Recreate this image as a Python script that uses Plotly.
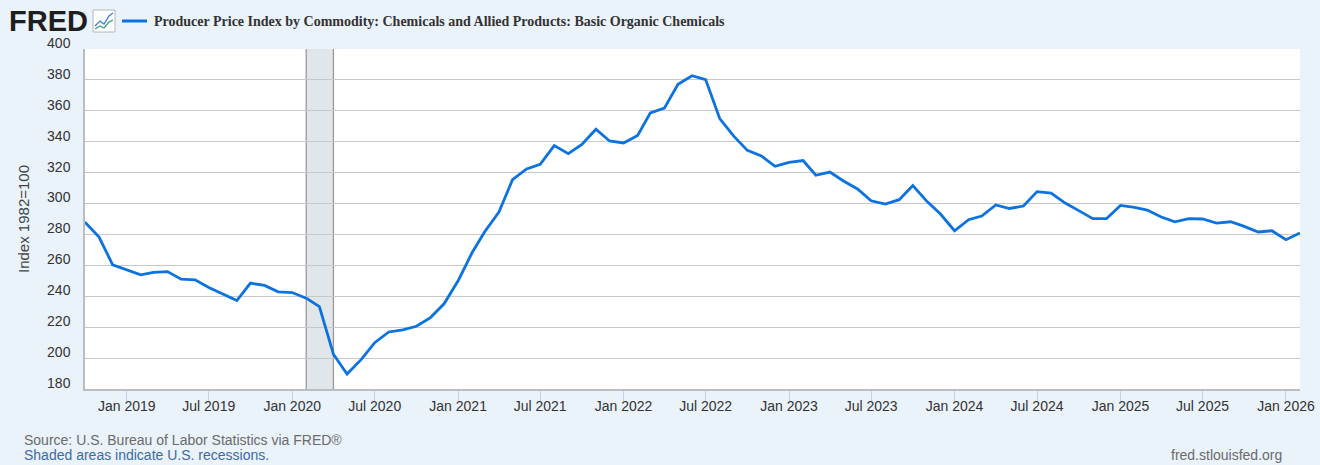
import pandas as pd
import plotly.graph_objects as go

W, H = 1320, 465
ML, MR, MT, MB = 85, 20, 49, 76

# monthly index values, Oct 2018 .. Feb 2026
start_month = "2018-10-01"
ppi_values = [
    288.0, 278.3, 260.4,
    257.1, 253.9, 255.4, 256.0, 251.1, 250.6, 245.7, 241.4, 237.2, 248.5, 247.0, 242.9,
    242.4, 238.8, 233.3, 202.5, 189.7, 199.0, 210.0, 216.9, 218.2, 220.6, 226.2, 235.1,
    250.0, 268.3, 281.9, 294.5, 315.4, 322.4, 325.4, 337.5, 332.3, 338.3, 348.1, 340.5,
    339.2, 344.0, 358.7, 361.7, 377.2, 382.7, 380.2, 355.0, 343.6, 334.4, 330.8, 324.1,
    326.7, 327.8, 318.3, 320.4, 314.6, 309.4, 301.8, 299.7, 302.5, 311.6, 301.4, 293.2,
    282.4, 289.5, 291.9, 299.1, 296.8, 298.4, 307.7, 306.8, 300.3, 295.4, 290.2, 290.2,
    298.8, 297.5, 295.8, 291.3, 288.2, 290.2, 290.0, 287.4, 288.2, 285.2, 281.6, 282.4,
    276.6, 280.9,
]
dates = pd.date_range(start_month, periods=len(ppi_values), freq="MS")

recession = ("2020-02-01", "2020-04-01")
y_ticks = list(range(180, 401, 20))

title_text = "Producer Price Index by Commodity: Chemicals and Allied Products: Basic Organic Chemicals"
y_title = "Index 1982=100"
source_text = "Source: U.S. Bureau of Labor Statistics via FRED®"
shaded_text = "Shaded areas indicate U.S. recessions."
site_text = "fred.stlouisfed.org"

LINE = "#0b72e0"
BG = "#eaf2fa"


def px(x):
    # pixel column -> paper x
    return (x - ML) / (W - ML - MR)


def py(y):
    # pixel row -> paper y
    return 1 - (y - MT) / (H - MT - MB)


fig = go.Figure()
fig.add_trace(go.Scatter(
    x=dates, y=ppi_values,
    mode="lines",
    line=dict(color=LINE, width=2.8),
    hoverinfo="skip",
))

# recession band
fig.add_shape(type="rect", xref="x", yref="paper",
              x0=recession[0], x1=recession[1], y0=0, y1=1,
              fillcolor="#e1e6eb", line=dict(width=0), layer="below")
for d in recession:
    fig.add_shape(type="line", xref="x", yref="paper",
                  x0=d, x1=d, y0=0, y1=1,
                  line=dict(color="#999999", width=1.3), layer="below")

# header: logo, icon, legend swatch
fig.add_annotation(text="<b>FRED</b>", xref="paper", yref="paper",
                   x=px(7), y=py(21), xanchor="left", yanchor="middle",
                   showarrow=False, font=dict(family="Liberation Sans", size=29, color="#1e1e1e"))
fig.add_shape(type="rect", xref="paper", yref="paper",
              x0=px(93), x1=px(115), y0=py(32), y1=py(10),
              fillcolor="white", line=dict(color="#b8b8b8", width=1))
fig.add_shape(type="path", xref="paper", yref="paper",
              path=f"M{px(95)},{py(26)} L{px(100)},{py(21)} L{px(104)},{py(24)} L{px(109)},{py(16)} L{px(113)},{py(13)}",
              line=dict(color="#3b7dd8", width=1.3))
fig.add_shape(type="path", xref="paper", yref="paper",
              path=f"M{px(95)},{py(29)} L{px(100)},{py(26)} L{px(104)},{py(28)} L{px(109)},{py(22)} L{px(113)},{py(20)}",
              line=dict(color="#33a37a", width=1.3))
fig.add_shape(type="line", xref="paper", yref="paper",
              x0=px(122), x1=px(147), y0=py(21), y1=py(21),
              line=dict(color=LINE, width=3))
fig.add_annotation(text="<b>" + title_text + "</b>", xref="paper", yref="paper",
                   x=px(152), y=py(21), xanchor="left", yanchor="middle",
                   showarrow=False, font=dict(family="Liberation Serif", size=14, color="#333333"))

# footer
fig.add_annotation(text=source_text, xref="paper", yref="paper",
                   x=px(22), y=py(440), xanchor="left", yanchor="middle",
                   showarrow=False, font=dict(family="Liberation Sans", size=14, color="#6b6b6b"))
fig.add_annotation(text=shaded_text, xref="paper", yref="paper",
                   x=px(22), y=py(455), xanchor="left", yanchor="middle",
                   showarrow=False, font=dict(family="Liberation Sans", size=14, color="#3d6aa6"))
fig.add_annotation(text=site_text, xref="paper", yref="paper",
                   x=px(1284), y=py(455), xanchor="right", yanchor="middle",
                   showarrow=False, font=dict(family="Liberation Sans", size=14, color="#6b6b6b"))

fig.update_layout(
    width=W, height=H,
    margin=dict(l=ML, r=MR, t=MT, b=MB, autoexpand=False),
    paper_bgcolor=BG, plot_bgcolor="white",
    showlegend=False,
    font=dict(family="Liberation Sans", size=14, color="#333333"),
    xaxis=dict(
        type="date", automargin=False,
        range=[dates[0], dates[-1]],
        tick0="2019-01-01", dtick="M6", tickformat="%b %Y",
        ticks="outside", ticklen=10, tickcolor="#c3d3e6", tickwidth=1,
        ticklabelstandoff=-7,
        showgrid=False, zeroline=False,
        showline=True, linecolor="#bdbdbd", linewidth=1.5,
        tickfont=dict(size=14, color="#333333"),
    ),
    yaxis=dict(
        automargin=False,
        range=[180, 400], tickvals=y_ticks,
        showgrid=True, gridcolor="#c8c8c8", gridwidth=1.3,
        zeroline=False, showline=True, linecolor="#bdbdbd", linewidth=1.5,
        ticks="", ticklabelstandoff=10, ticklabelshift=-6,
        tickfont=dict(size=14, color="#333333"),
        title=dict(text=y_title, standoff=14, font=dict(size=15, color="#444444")),
    ),
)

# drop the page's default body margin so the figure sits at the window corner
fig.write_html("out.html", config={"displayModeBar": False},
               post_script="document.body.style.margin='0';document.body.style.background='%s';" % BG)
